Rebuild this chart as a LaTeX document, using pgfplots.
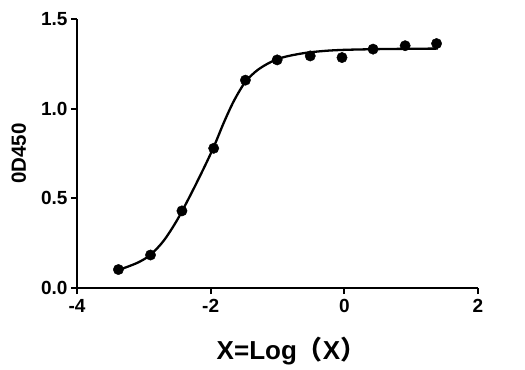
\documentclass[border=0pt]{standalone}
\usepackage{pgfplots}
\pgfplotsset{compat=1.18}
\usepackage{fontspec}
\setmainfont{Liberation Sans}
\newfontfamily\cjk{Noto Sans CJK SC}
\begin{document}
\begin{tikzpicture}
\begin{axis}[
  name=ax,
  scale only axis,
  width=401pt, height=269pt,
  xmin=-4, xmax=2, ymin=0, ymax=1.5,
  axis x line*=bottom, axis y line*=left,
  axis line style={line width=2pt},
  xtick={-4,-2,0,2}, ytick={0,0.5,1,1.5},
  y tick label style={/pgf/number format/fixed, /pgf/number format/fixed zerofill, /pgf/number format/precision=1},
  /pgf/number format/assume math mode=true,
  tick align=outside, major tick length=6pt,
  tick style={line width=1.8pt, black},
  ticklabel style={font=\fontsize{19}{22}\selectfont\bfseries},
  xticklabel style={yshift=-2pt},
  xlabel={\fontsize{26}{30}\selectfont\bfseries X=Log{\cjk\bfseries （}X{\cjk\bfseries ）}},
  ylabel={\fontsize{20.5}{25}\selectfont\bfseries 0D450},
  xlabel style={yshift=-17pt, xshift=14pt},
  ylabel style={yshift=8pt},
  clip=false,
]
\addplot[black, line width=2.3pt, smooth, tension=0.5] coordinates {
(-3.38,0.10) (-3.1,0.14) (-2.9,0.185) (-2.7,0.265) (-2.5,0.38) (-2.3,0.52)
(-2.1,0.67) (-1.95,0.79) (-1.8,0.925) (-1.65,1.045) (-1.48,1.15) (-1.3,1.215)
(-1.1,1.26) (-0.9,1.288) (-0.6,1.31) (-0.3,1.322) (0,1.328) (0.5,1.332)
(1.0,1.334) (1.4,1.335)
};
\addplot[only marks, mark=*, mark size=5.2pt, black] coordinates {
(-3.38,0.103) (-2.90,0.184) (-2.43,0.43) (-1.955,0.779) (-1.48,1.159)
(-1.005,1.272) (-0.51,1.294) (-0.035,1.285) (0.43,1.332) (0.91,1.351) (1.38,1.363)
};
\end{axis}
\path (ax.south west) ++(-77pt,-81pt) coordinate (bl);
\path (ax.north east) ++(47pt,19pt) coordinate (tr);
\path (bl) rectangle (tr);
\end{tikzpicture}
\end{document}
